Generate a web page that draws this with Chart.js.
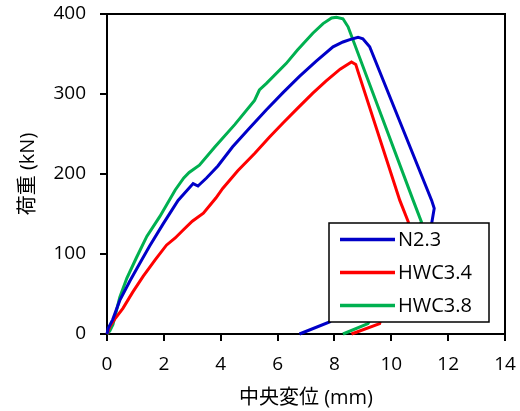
<!DOCTYPE html>
<html>
<head>
<meta charset="utf-8">
<script src="https://cdn.jsdelivr.net/npm/chart.js@4.4.1/dist/chart.umd.min.js"></script>
<style>
  html, body { margin: 0; padding: 0; background: #fff; }
  #wrap { width: 520px; height: 411px; }
</style>
</head>
<body>
<div id="wrap"><canvas id="c" width="520" height="411"></canvas></div>
<script>
// 荷重-変位データ
const seriesNames = ['N2.3', 'HWC3.4', 'HWC3.8'];
const seriesColors = ['#0000C8', '#FF0000', '#00B050'];

// N2.3
const n23X = [0, 0.04, 0.2, 0.45, 0.8, 1.15, 1.5, 1.98, 2.5, 3.03, 3.2, 3.5, 3.9, 4.42, 5.0, 5.6, 6.2, 6.77, 7.36, 7.95, 8.3, 8.54, 8.83, 9.0, 9.24, 11.42, 11.51, 11.42, 7.83, 6.77];
const n23Y = [0, 7, 18, 42, 66, 88, 110, 138, 167, 188, 185, 195, 210, 234, 257, 280, 302, 322, 341, 359, 365, 368, 371, 369, 359, 167, 157, 138, 15, 0];

// HWC3.4
const hwc34X = [0, 0.1, 0.3, 0.56, 0.9, 1.27, 1.7, 2.09, 2.4, 2.68, 3.0, 3.39, 3.83, 4.07, 4.6, 5.2, 5.71, 6.2, 6.7, 7.24, 7.7, 8.2, 8.6, 8.75, 8.83, 10.3, 10.6, 9.59, 8.6];
const hwc34Y = [0, 9, 20, 32, 52, 72, 93, 111, 120, 130, 141, 151, 170, 182, 204, 226, 246, 264, 282, 301, 316, 331, 340, 337, 328, 167, 140, 13, 0];

// HWC3.8
const hwc38X = [0, 0.1, 0.21, 0.45, 0.7, 1.03, 1.4, 1.86, 2.4, 2.7, 2.89, 3.25, 3.8, 4.5, 5.19, 5.36, 5.6, 6.3, 6.7, 7.24, 7.6, 7.9, 8.07, 8.3, 8.48, 10.77, 11.06, 9.18, 8.3];
const hwc38Y = [0, 4, 12, 46, 70, 95, 122, 147, 180, 195, 202, 211, 234, 262, 292, 305, 313, 338, 355, 376, 388, 395, 396, 394, 384, 167, 140, 13, 0];

const xTicks = [0, 2, 4, 6, 8, 10, 12, 14];
const yTicks = [0, 100, 200, 300, 400];

const xs = [n23X, hwc34X, hwc38X];
const ys = [n23Y, hwc34Y, hwc38Y];

const FONT = '"Open Sans", "Noto Sans CJK JP", sans-serif';

// プロット枠
const frame = {
  id: 'frame',
  beforeDatasetsDraw(chart) {
    const { ctx, chartArea: a } = chart;
    ctx.save();
    ctx.strokeStyle = '#000';
    ctx.lineWidth = 2;
    ctx.strokeRect(a.left, a.top, a.right - a.left, a.bottom - a.top);
    ctx.restore();
  }
};

// 凡例（プロット内右下）
const legendBox = {
  id: 'legendBox',
  afterDatasetsDraw(chart) {
    const { ctx, chartArea: a } = chart;
    const w = 160, rowH = 33;
    const h = rowH * chart.data.datasets.length;
    const right = a.right - 16, bottom = a.bottom - 12;
    const left = right - w, top = bottom - h;
    ctx.save();
    ctx.fillStyle = '#fff';
    ctx.fillRect(left, top, w, h);
    ctx.strokeStyle = '#000';
    ctx.lineWidth = 1.5;
    ctx.strokeRect(left, top, w, h);
    ctx.font = '20px ' + FONT;
    ctx.textBaseline = 'middle';
    chart.data.datasets.forEach((ds, i) => {
      const y = top + rowH * (i + 0.5);
      ctx.strokeStyle = ds.borderColor;
      ctx.lineWidth = 3.5;
      ctx.beginPath();
      ctx.moveTo(left + 11, y);
      ctx.lineTo(left + 66, y);
      ctx.stroke();
      ctx.fillStyle = '#000';
      ctx.fillText(ds.label, left + 69, y + 1);
    });
    ctx.restore();
  }
};

const datasets = seriesNames.map((name, i) => ({
  label: name,
  data: xs[i].map((x, j) => ({ x, y: ys[i][j] })),
  borderColor: seriesColors[i],
  backgroundColor: seriesColors[i],
  borderWidth: 3,
  pointRadius: 0,
  showLine: true,
  tension: 0,
  clip: 4
}));

new Chart(document.getElementById('c'), {
  type: 'scatter',
  data: { datasets },
  options: {
    responsive: false,
    animation: false,
    layout: { padding: { top: 14, right: 15, left: 0, bottom: 0 } },
    plugins: { legend: { display: false }, tooltip: { enabled: false } },
    scales: {
      x: {
        type: 'linear',
        min: 0,
        max: 14,
        afterBuildTicks: s => { s.ticks = xTicks.map(v => ({ value: v })); },
        afterFit: s => {
          s.height = 77;
          s.paddingLeft = 0;
          s.paddingRight = 0;
        },
        grid: { drawOnChartArea: false, drawTicks: true, tickLength: 7, color: '#000', lineWidth: 2 },
        border: { color: '#000', width: 2 },
        ticks: { color: '#000', padding: 12, font: { family: FONT, size: 19 } },
        title: {
          display: true,
          text: '中央変位 (mm)',
          color: '#000',
          font: { family: FONT, size: 20 },
          padding: { top: 0, bottom: 1 }
        }
      },
      y: {
        type: 'linear',
        min: 0,
        max: 400,
        afterBuildTicks: s => { s.ticks = yTicks.map(v => ({ value: v })); },
        afterFit: s => {
          s.width = 107;
          s.paddingTop = 0;
          s.paddingBottom = 0;
        },
        grid: { drawOnChartArea: false, drawTicks: true, tickLength: 7, color: '#000', lineWidth: 2 },
        border: { color: '#000', width: 2 },
        ticks: { color: '#000', padding: 14, font: { family: FONT, size: 19 } },
        title: {
          display: true,
          text: '荷重 (kN)',
          color: '#000',
          font: { family: FONT, size: 20 },
          padding: { top: 16, bottom: 0 }
        }
      }
    }
  },
  plugins: [frame, legendBox]
});
</script>
</body>
</html>
